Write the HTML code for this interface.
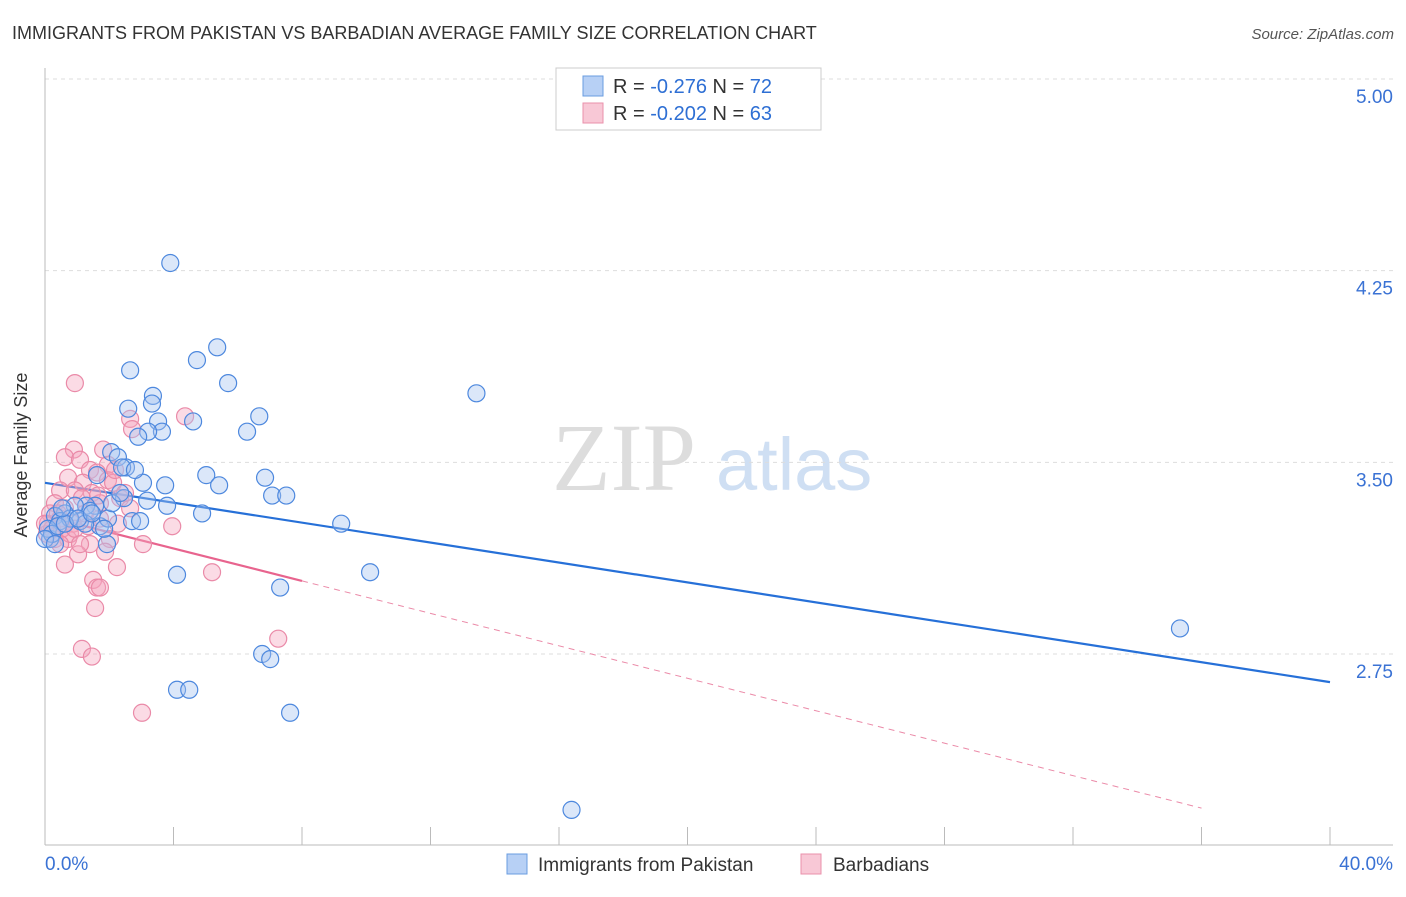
<!DOCTYPE html>
<html><head><meta charset="utf-8"><style>
body{margin:0;background:#fff;font-family:"Liberation Sans",sans-serif}
</style></head><body>
<svg id="chart" width="1406" height="892" xmlns="http://www.w3.org/2000/svg">
<text x="12" y="39" font-size="18" fill="#333">IMMIGRANTS FROM PAKISTAN VS BARBADIAN AVERAGE FAMILY SIZE CORRELATION CHART</text>
<text x="1394" y="39" font-size="15" fill="#555" font-style="italic" text-anchor="end">Source: ZipAtlas.com</text>
<g><text x="552" y="490" font-size="96" font-family="Liberation Serif,serif" fill="#ddd">ZIP</text><text x="716" y="490" font-size="74" fill="#cfdff3">atlas</text></g>
<g id="grid"></g><g id="axes"></g><g id="lines"></g><g id="pts"></g>
<text x="27" y="455" font-size="18" fill="#333" text-anchor="middle" transform="rotate(-90 27 455)">Average Family Size</text>
<g>
<rect x="556" y="68" width="265" height="62" fill="#fff" stroke="#ccc"/>
<rect x="583" y="76" width="20" height="20" fill="#b7d0f5" stroke="#6a9ce0"/>
<rect x="583" y="103" width="20" height="20" fill="#f8c8d6" stroke="#ea90ab"/>
<text x="613" y="93" font-size="20" fill="#333">R = <tspan fill="#2e6fd4">-0.276</tspan>   N = <tspan fill="#2e6fd4">72</tspan></text>
<text x="613" y="120" font-size="20" fill="#333">R = <tspan fill="#2e6fd4">-0.202</tspan>   N = <tspan fill="#2e6fd4">63</tspan></text>
</g>
<g>
<rect x="507" y="854" width="20" height="20" fill="#b7d0f5" stroke="#6a9ce0"/>
<text x="538" y="871" font-size="19" fill="#333">Immigrants from Pakistan</text>
<rect x="801" y="854" width="20" height="20" fill="#f8c8d6" stroke="#ea90ab"/>
<text x="833" y="871" font-size="19" fill="#333">Barbadians</text>
</g>
</svg>
<script>
const yTicks=[5.00,4.25,3.50,2.75];
const xTickLabels=["0.0%","40.0%"];
const blueX=[3.9,5.36,4.73,2.65,5.7,3.36,13.43,2.59,3.33,6.67,4.61,3.52,3.64,3.21,6.29,2.9,2.06,2.27,2.52,2.4,5.02,6.85,3.05,3.74,5.42,1.62,7.07,7.51,3.18,2.46,3.8,4.89,9.22,1.56,1.28,1.4,0.93,0.62,0.31,1.09,1.71,2.71,2.96,1.96,1.25,0.47,0.78,0.16,0.09,1.93,4.11,10.12,7.32,35.33,6.76,7.01,4.11,4.49,7.63,16.39,0.22,0.4,0.62,1.03,1.46,1.84,2.09,2.34,0,0.31,0.53,2.8];
const blueY=[4.28,3.95,3.90,3.86,3.81,3.76,3.77,3.71,3.73,3.68,3.66,3.66,3.62,3.62,3.62,3.60,3.54,3.52,3.48,3.48,3.45,3.44,3.42,3.41,3.41,3.45,3.37,3.37,3.35,3.36,3.33,3.30,3.26,3.33,3.33,3.31,3.33,3.30,3.29,3.27,3.25,3.27,3.27,3.28,3.26,3.27,3.28,3.20,3.24,3.18,3.06,3.07,3.01,2.85,2.75,2.73,2.61,2.61,2.52,2.14,3.22,3.25,3.26,3.28,3.30,3.24,3.34,3.38,3.20,3.18,3.32,3.47];
const pinkX=[0.93,4.36,2.65,2.71,1.81,0.9,0.62,1.09,1.96,1.4,1.62,0.72,1.18,1.96,0.47,0.93,1.46,2.34,0.31,0.62,1.15,1.71,2.65,0.16,0.47,0.87,1.34,2.27,3.96,0.06,0.31,0.72,1.4,2.02,3.05,1.87,1.03,0.62,2.24,5.2,1.5,1.62,1.71,1.56,7.26,1.15,1.46,3.02,0.09,0.22,0.4,0.53,0.78,1.25,1.71,0.93,1.09,2.12,2.49,1.65,2.18,0,0.47];
const pinkY=[3.81,3.68,3.67,3.63,3.55,3.55,3.52,3.51,3.49,3.47,3.46,3.44,3.42,3.43,3.39,3.39,3.38,3.36,3.34,3.32,3.36,3.34,3.32,3.30,3.28,3.26,3.25,3.26,3.25,3.22,3.20,3.20,3.18,3.20,3.18,3.15,3.14,3.10,3.09,3.07,3.04,3.01,3.01,2.93,2.81,2.77,2.74,2.52,3.26,3.24,3.30,3.24,3.22,3.30,3.28,3.24,3.18,3.42,3.38,3.37,3.47,3.26,3.18];
const blueTrend=[3.42,2.64];
const pinkTrend=[3.29,2.02];
const NS="http://www.w3.org/2000/svg";
const X0=45,X1=1330,YT=79,YB=654;
function sx(v){return X0+(X1-X0)*v/40;}
function sy(v){return YT+(5-v)*(YB-YT)/2.25;}
function mk(t,a,p){const e=document.createElementNS(NS,t);for(const k in a)e.setAttribute(k,a[k]);p.appendChild(e);return e;}
const grid=document.getElementById('grid'),axes=document.getElementById('axes'),lines=document.getElementById('lines'),pts=document.getElementById('pts');
yTicks.forEach(t=>{
 const l=mk('line',{x1:45,x2:1393,y1:sy(t),y2:sy(t),stroke:'#ddd','stroke-dasharray':'4 4'},grid);
 
 
 const tx=mk('text',{x:1393,y:sy(t)+24,'font-size':19,fill:'#3a72d4','text-anchor':'end'},axes);
 tx.textContent=t.toFixed(2);
 
 
});
mk('line',{x1:45,x2:45,y1:68,y2:845,stroke:'#bbb'},axes);
mk('line',{x1:45,x2:1393,y1:845,y2:845,stroke:'#bbb'},axes);
for(let i=0;i<=10;i++){const l=mk('line',{x1:sx(i*4),x2:sx(i*4),y1:827,y2:845,stroke:'#bbb'},axes);
 
 }
const xl0=mk('text',{x:45,y:870,'font-size':19,fill:'#3a72d4'},axes);xl0.textContent=xTickLabels[0];


const xl1=mk('text',{x:1393,y:870,'font-size':19,fill:'#3a72d4','text-anchor':'end'},axes);xl1.textContent=xTickLabels[1];


function pt(x,y,f,s){const c=mk('circle',{cx:sx(x),cy:sy(y),r:8.5,fill:f,'fill-opacity':0.4,stroke:s,'stroke-width':1.2},pts);return c;}
pinkX.forEach((x,i)=>{const c=pt(x,pinkY[i],'#f4a6bf','#ea8aa8');
 
 });
blueX.forEach((x,i)=>{const c=pt(x,blueY[i],'#a4c4f0','#4d88de');
 
 });
const bl=mk('line',{x1:sx(0),y1:sy(blueTrend[0]),x2:sx(40),y2:sy(blueTrend[1]),stroke:'#2670d8','stroke-width':2.2},lines);


const ps=(pinkTrend[1]-pinkTrend[0])/40;
const pl=mk('line',{x1:sx(0),y1:sy(pinkTrend[0]),x2:sx(8),y2:sy(pinkTrend[0]+ps*8),stroke:'#e8648e','stroke-width':2.2},lines);


const pd=mk('line',{x1:sx(8),y1:sy(pinkTrend[0]+ps*8),x2:sx(36),y2:sy(pinkTrend[0]+ps*36),stroke:'#eb8aa8','stroke-width':1,'stroke-dasharray':'6 5'},lines);


</script>
</body></html>
